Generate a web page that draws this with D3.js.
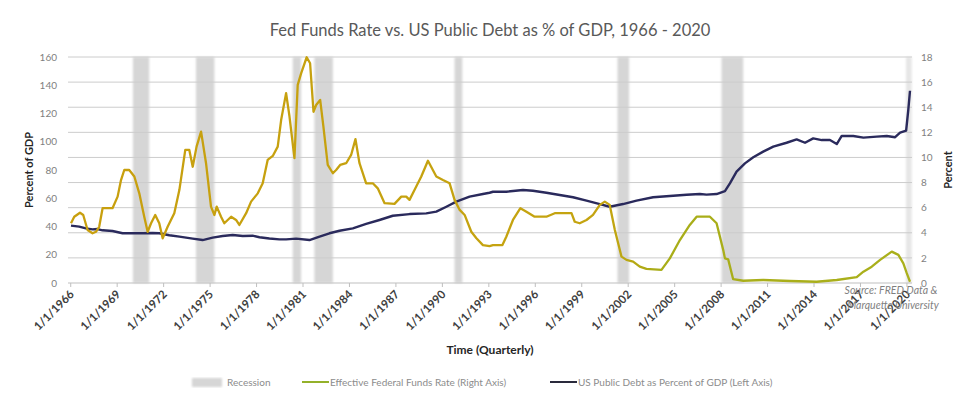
<!DOCTYPE html>
<html>
<head>
<meta charset="utf-8">
<script src="https://cdn.jsdelivr.net/npm/d3@7"></script>
<style>
  body { margin: 0; background: #fff; }
  text { font-family: Lato, "Open Sans", sans-serif; }
</style>
</head>
<body>
<svg width="964" height="399"></svg>
<script>
// Quarter dates as decimal years
const fedYears = [1966.05,1966.26,1966.63,1966.84,1967.12,1967.44,1967.66,1967.87,1968.09,1968.73,1969.06,1969.28,1969.49,1969.81,1970.14,1970.46,1970.78,1971.0,1971.22,1971.49,1971.75,1971.97,1972.29,1972.72,1973.05,1973.43,1973.69,1973.91,1974.16,1974.45,1974.77,1975.09,1975.31,1975.46,1975.74,1975.95,1976.39,1976.71,1976.92,1977.36,1977.68,1978.11,1978.43,1978.75,1979.08,1979.4,1979.62,1979.94,1980.16,1980.48,1980.69,1980.91,1981.27,1981.49,1981.71,1981.88,1982.14,1982.35,1982.63,1982.96,1983.17,1983.43,1983.82,1984.14,1984.42,1984.68,1985.11,1985.54,1985.86,1986.3,1986.94,1987.38,1987.7,1987.91,1988.24,1988.67,1989.1,1989.64,1990.07,1990.5,1990.82,1991.15,1991.47,1991.9,1992.23,1992.65,1993.08,1993.3,1993.91,1994.16,1994.59,1995.07,1995.46,1995.99,1996.75,1997.29,1998.37,1998.58,1998.9,1999.34,1999.76,2000.2,2000.52,2000.84,2001.17,2001.6,2001.92,2002.35,2002.78,2003.21,2004.18,2004.72,2005.37,2006.01,2006.45,2007.31,2007.74,2008.17,2008.28,2008.49,2008.81,2009.46,2010.75,2012.48,2014.2,2015.5,2016.79,2017.22,2017.76,2018.3,2019.05,2019.48,2019.8,2020.02,2020.23]
const fedRate = [4.76,5.28,5.6,5.42,4.22,3.96,4.08,4.48,5.96,5.96,6.88,8.2,9.0,9.0,8.48,7.14,5.28,4.08,4.76,5.42,4.76,3.56,4.48,5.56,7.42,10.6,10.6,9.26,10.86,12.06,9.54,6.08,5.42,6.08,5.28,4.76,5.28,5.02,4.62,5.56,6.48,7.14,7.94,9.8,10.12,10.86,12.98,15.12,13.26,9.94,15.78,16.7,17.98,17.5,13.64,14.18,14.58,12.46,9.4,8.74,9.0,9.4,9.54,10.2,11.46,9.54,7.94,7.94,7.54,6.36,6.3,6.88,6.88,6.62,7.42,8.48,9.74,8.48,8.2,7.94,6.62,5.82,5.42,4.08,3.56,3.02,2.94,3.02,3.02,3.68,5.02,5.96,5.68,5.28,5.28,5.56,5.56,4.88,4.76,5.02,5.42,6.22,6.48,6.22,4.22,2.1,1.84,1.7,1.3,1.12,1.04,1.96,3.42,4.62,5.28,5.28,4.76,2.62,1.96,1.88,0.3,0.18,0.24,0.16,0.1,0.24,0.46,0.9,1.3,1.84,2.5,2.24,1.56,0.78,0.1]

const debtYears = [1966.05,1966.58,1967.01,1967.44,1967.76,1968.09,1968.73,1969.38,1970.03,1970.67,1971.32,1971.75,1972.4,1973.05,1973.91,1974.55,1975.2,1975.84,1976.49,1977.14,1977.78,1978.22,1978.86,1979.51,1979.94,1980.59,1981.45,1982.1,1982.74,1983.39,1984.25,1985.11,1985.97,1986.83,1987.91,1988.99,1989.64,1990.29,1990.93,1991.79,1992.65,1993.08,1993.3,1994.16,1995.24,1995.88,1996.75,1997.61,1998.47,1999.34,2000.2,2000.84,2001.7,2002.57,2003.64,2004.72,2005.8,2006.66,2007.09,2007.74,2008.28,2008.6,2009.03,2009.57,2010.11,2010.75,2011.4,2012.26,2012.91,2013.45,2013.98,2014.53,2015.06,2015.5,2015.82,2016.57,2017.22,2018.08,2018.73,2019.27,2019.59,2019.98,2020.12,2020.23]
const debtPct = [40.6,39.9,38.7,38.0,38.2,37.3,36.8,35.2,35.2,35.2,35.4,35.2,33.8,32.8,31.4,30.4,32.1,33.3,34.0,33.3,33.5,32.4,31.5,30.9,30.9,31.4,30.4,32.8,35.2,37.0,38.7,41.8,44.6,47.6,48.8,49.3,50.5,54.0,57.6,61.1,63.0,63.9,64.6,64.6,65.8,65.3,63.9,62.3,60.7,58.3,55.9,54.0,55.9,58.3,60.7,61.6,62.5,63.0,62.6,63.0,65.1,70.6,78.8,84.7,89.0,93.0,96.5,99.3,101.7,99.3,102.4,101.2,101.2,98.4,104.1,104.1,102.9,103.6,104.1,103.2,106.4,107.8,122.5,136.1]

const recessions = [[1970.05,1971.1],[1974.12,1975.31],[1980.37,1980.91],[1981.77,1982.96],[1990.82,1991.32],[2001.34,2002.09],[2008.06,2009.46],[2019.97,2020.34]]
const tickYears = d3.range(1966, 2021, 3)
const leftTicks = d3.range(0, 161, 20)
const rightTicks = d3.range(0, 19, 2)

const svg = d3.select('svg')
const plotLeft = 71, plotRight = 910, plotTop = 57, plotBottom = 283

const x = d3.scaleLinear().domain([1966.05, 2020.23]).range([plotLeft, plotRight])
const yL = d3.scaleLinear().domain([0, 160]).range([plotBottom, plotTop])
const yR = d3.scaleLinear().domain([0, 18]).range([plotBottom, plotTop])

const defs = svg.append('defs')
defs.append('filter').attr('id', 'soft').attr('x', '-20%').attr('width', '140%')
  .append('feGaussianBlur').attr('stdDeviation', 1.2)
const grad = defs.append('linearGradient').attr('id', 'fedGrad')
  .attr('gradientUnits', 'userSpaceOnUse')
  .attr('x1', plotLeft).attr('x2', plotRight).attr('y1', 0).attr('y2', 0)
grad.append('stop').attr('offset', '0%').attr('stop-color', '#c89f0e')
grad.append('stop').attr('offset', '64%').attr('stop-color', '#c4a410')
grad.append('stop').attr('offset', '70%').attr('stop-color', '#a8ad18')
grad.append('stop').attr('offset', '100%').attr('stop-color', '#aab01c')

// title
svg.append('text').attr('x', 490).attr('y', 36).attr('text-anchor', 'middle')
  .attr('font-size', 16.5).attr('fill', '#595959')
  .text('Fed Funds Rate vs. US Public Debt as % of GDP, 1966 - 2020')

// recession bands
svg.append('g').attr('filter', 'url(#soft)')
  .selectAll('rect').data(recessions).enter().append('rect')
    .attr('x', d => x(d[0]))
    .attr('width', d => x(d[1]) - x(d[0]))
    .attr('y', plotTop)
    .attr('height', plotBottom - plotTop)
    .attr('fill', (d, i) => i === recessions.length - 1 ? '#e6e6e6' : '#d6d6d6')

// gridlines
svg.append('g').selectAll('line').data(rightTicks).enter().append('line')
  .attr('x1', 68).attr('x2', 912)
  .attr('y1', d => yR(d)).attr('y2', d => yR(d))
  .attr('stroke', d => d === 0 ? '#bfbfbf' : '#cccccc').attr('stroke-width', 1)

// axes
const axL = svg.append('g').attr('transform', 'translate(60,0)')
  .call(d3.axisLeft(yL).tickValues(leftTicks).tickSize(0))
const axR = svg.append('g').attr('transform', 'translate(918,0)')
  .call(d3.axisRight(yR).tickValues(rightTicks).tickSize(0))
;[axL, axR].forEach(g => {
  g.select('.domain').remove()
  g.selectAll('text').attr('font-size', 10).attr('fill', '#7f7f7f')
    .attr('font-family', 'Lato, sans-serif')
})

const axX = svg.append('g').attr('transform', `translate(0,${plotBottom})`)
  .call(d3.axisBottom(x).tickValues(tickYears).tickSize(4).tickSizeOuter(0)
    .tickFormat(d => '1/1/' + d))
axX.select('.domain').remove()
axX.selectAll('line').attr('stroke', '#bfbfbf')
axX.selectAll('text')
  .attr('font-size', 11.5).attr('font-weight', 700).attr('fill', '#404040')
  .attr('font-family', 'Lato, sans-serif')
  .attr('text-anchor', 'end')
  .attr('dy', 0).attr('y', 0)
  .attr('transform', 'translate(4,12) rotate(-45)')

// lines
const lineFed = d3.line().x((d, i) => x(fedYears[i])).y(d => yR(d))
const lineDebt = d3.line().x((d, i) => x(debtYears[i])).y(d => yL(d))

svg.append('path').datum(debtPct).attr('d', lineDebt)
  .attr('fill', 'none').attr('stroke', '#2a2a5c').attr('stroke-width', 2.4)
  .attr('stroke-linejoin', 'round')
svg.append('path').datum(fedRate).attr('d', lineFed)
  .attr('fill', 'none').attr('stroke', 'url(#fedGrad)').attr('stroke-width', 2.3)
  .attr('stroke-linejoin', 'round')

// axis titles
svg.append('text').attr('transform', 'translate(33,170) rotate(-90)')
  .attr('text-anchor', 'middle').attr('font-size', 11).attr('font-weight', 700)
  .attr('fill', '#262626').text('Percent of GDP')
svg.append('text').attr('transform', 'translate(952,170) rotate(-90)')
  .attr('text-anchor', 'middle').attr('font-size', 11).attr('font-weight', 700)
  .attr('fill', '#262626').text('Percent')
svg.append('text').attr('x', 490).attr('y', 354).attr('text-anchor', 'middle')
  .attr('font-size', 12).attr('font-weight', 700).attr('fill', '#262626')
  .text('Time (Quarterly)')

// source (sits over the last tick labels, as in the original)
const src = svg.append('text').attr('text-anchor', 'middle').attr('font-size', 10.5)
  .attr('font-style', 'italic').attr('fill', '#7f7f7f')
src.append('tspan').attr('x', 891).attr('y', 294).text('Source: FRED Data &')
src.append('tspan').attr('x', 893).attr('y', 309).text('Marquette University')

// legend
const lg = svg.append('g').attr('font-size', 10).attr('fill', '#8c8c8c')
lg.append('rect').attr('x', 192).attr('y', 378).attr('width', 30).attr('height', 9)
  .attr('fill', '#d6d6d6').attr('filter', 'url(#soft)')
lg.append('text').attr('x', 227).attr('y', 386).text('Recession')
lg.append('line').attr('x1', 302).attr('x2', 329).attr('y1', 382).attr('y2', 382)
  .attr('stroke', '#94b12a').attr('stroke-width', 2)
lg.append('text').attr('x', 330).attr('y', 386).text('Effective Federal Funds Rate (Right Axis)')
lg.append('line').attr('x1', 550).attr('x2', 577).attr('y1', 382).attr('y2', 382)
  .attr('stroke', '#2a2a3c').attr('stroke-width', 2)
lg.append('text').attr('x', 578).attr('y', 386).text('US Public Debt as Percent of GDP (Left Axis)')
</script>
</body>
</html>
